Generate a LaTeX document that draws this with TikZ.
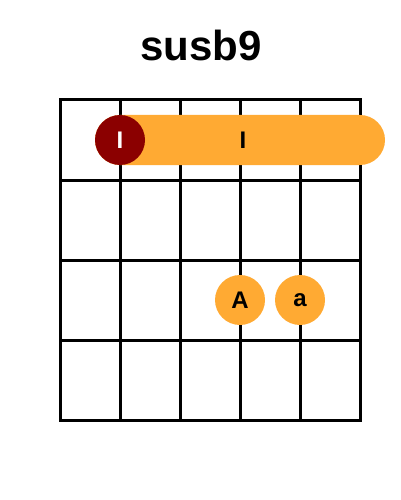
\documentclass[tikz,border=0pt]{standalone}
\usepackage{fontspec}
\setmainfont{Liberation Sans}
\definecolor{dotorange}{HTML}{FFAA33}
\definecolor{rootred}{HTML}{8B0000}
\begin{document}
\begin{tikzpicture}[x=1pt,y=-1pt,
  gridline/.style={line width=3pt,line cap=rect},
  dot/.style={circle,fill=dotorange,minimum size=50pt,inner sep=0pt,font=\bfseries\fontsize{24}{24}\selectfont},
  rootdot/.style={circle,fill=rootred,text=white,minimum size=50pt,inner sep=0pt,font=\bfseries\fontsize{24}{24}\selectfont},
  lbl/.style={font=\bfseries\fontsize{24}{24}\selectfont}]
\useasboundingbox (0,0) rectangle (400,500);
\node[font=\bfseries\fontsize{42}{42}\selectfont] (title) at (201,45) {susb9};
% grid
\foreach \x in {60,120,180,240,300,360} \draw[gridline] (\x,100) -- (\x,420);
\foreach \y in {100,180,260,340,420} \draw[gridline] (60,\y) -- (360,\y);
% barre
\fill[dotorange,rounded corners=25pt] (95,115) rectangle (385,165);
\node[lbl] (barlbl) at (243,140) {I};
\node[rootdot] (root) at (120,140) {I};
\node[dot] (d1) at (240,300) {A};
\node[dot] (d2) at (300,300) {a};
\end{tikzpicture}
\end{document}
